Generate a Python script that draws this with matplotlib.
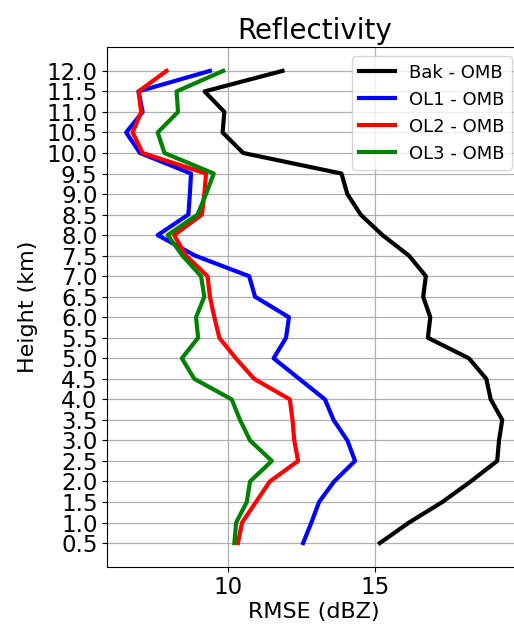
import matplotlib
matplotlib.use("Agg")
import matplotlib.pyplot as plt
import numpy as np

heights = [0.5, 1.0, 1.5, 2.0, 2.5, 3.0, 3.5, 4.0, 4.5, 5.0, 5.5, 6.0,
           6.5, 7.0, 7.5, 8.0, 8.5, 9.0, 9.5, 10.0, 10.5, 11.0, 11.5, 12.0]

bak_omb = [15.16, 16.15, 17.28, 18.24, 19.14, 19.20, 19.31, 18.92, 18.77, 18.18, 16.79, 16.87,
           16.63, 16.72, 16.15, 15.25, 14.51, 14.06, 13.86, 10.53, 9.83, 9.89, 9.22, 11.86]
ol1_omb = [12.56, 12.84, 13.10, 13.61, 14.32, 14.06, 13.59, 13.30, 12.43, 11.56, 11.98, 12.08,
           10.93, 10.73, 8.90, 7.63, 8.67, 8.72, 8.76, 7.03, 6.56, 7.12, 6.98, 9.40]
ol2_omb = [10.35, 10.49, 10.96, 11.43, 12.39, 12.26, 12.20, 12.11, 10.90, 10.28, 9.72, 9.55,
           9.40, 9.32, 8.59, 8.19, 9.13, 9.21, 9.27, 7.12, 6.78, 7.07, 6.98, 7.93]
ol3_omb = [10.23, 10.29, 10.65, 10.76, 11.50, 10.76, 10.42, 10.14, 8.87, 8.45, 9.00, 8.93,
           9.21, 9.10, 8.47, 7.97, 8.98, 9.27, 9.53, 7.86, 7.63, 8.32, 8.27, 9.85]

series_labels = ["Bak - OMB", "OL1 - OMB", "OL2 - OMB", "OL3 - OMB"]
series_colors = ["black", "blue", "red", "green"]
xticks = [10, 15]

fig = plt.figure(figsize=(5.14, 6.27), dpi=100)
ax = fig.add_axes([0.2088, 0.0962, 0.8049, 0.8284])

for vals, lab, col in zip([bak_omb, ol1_omb, ol2_omb, ol3_omb], series_labels, series_colors):
    ax.plot(vals, heights, color=col, lw=3, label=lab)

ax.set_yticks(heights)
ax.set_yticklabels([f"{h:.1f}" for h in heights])
ax.set_xticks(xticks)
ax.tick_params(axis='both', labelsize=16.5)
ax.grid(True, color='#b0b0b0', lw=0.9)
ax.set_xlabel("RMSE (dBZ)", fontsize=16, labelpad=2)
ax.set_ylabel("Height (km)", fontsize=16, labelpad=6)
ax.set_title("Reflectivity", fontsize=20)
ax.legend(loc='upper right', fontsize=13)

fig.savefig("out.png", dpi=100)
